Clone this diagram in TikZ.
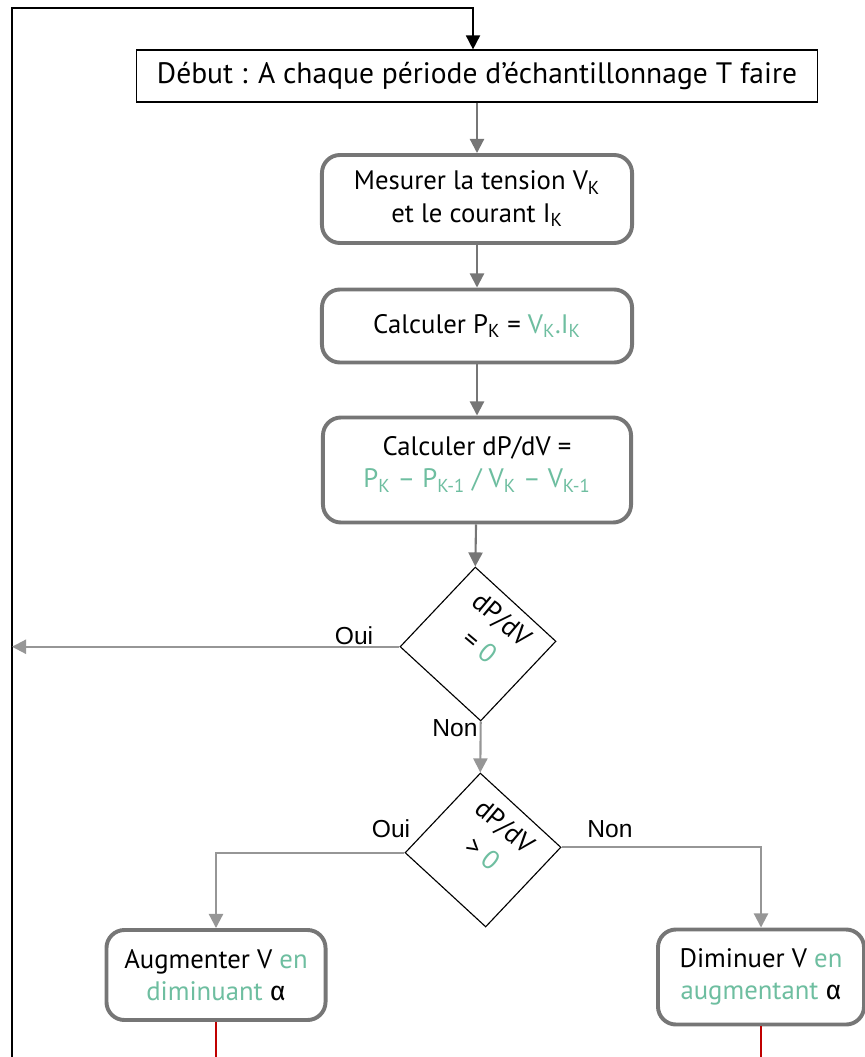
\documentclass[tikz,border=0pt]{standalone}
\usepackage{fontspec}
\usepackage{xcolor}
\setmainfont{PT Sans}
\newfontfamily\labelfont{Liberation Sans}
\newfontfamily\greekfont{Fira Sans}
\usetikzlibrary{shapes.geometric,arrows.meta}

\definecolor{boxgray}{RGB}{118,118,118}
\definecolor{linegray}{RGB}{150,150,150}
\definecolor{formula}{RGB}{110,190,160}
\definecolor{loopred}{RGB}{192,0,0}
\newcommand{\alphachar}{{\greekfont α}}
\newcommand{\low}[1]{\textsubscript{#1}}

\begin{document}
\begin{tikzpicture}[x=0.025cm,y=-0.025cm,
        every node/.style={font=\fontsize{19}{23}\selectfont},
        stepbox/.style={draw=boxgray,line width=2.8pt,rounded corners=0.45cm,fill=white,align=center,inner sep=0pt},
        startbox/.style={draw=black,line width=0.8pt,inner sep=0pt,font=\fontsize{21}{25}\selectfont},
        testbox/.style={draw=black,line width=0.8pt,diamond,inner sep=0pt,rotate=2,minimum width=3.9cm,minimum height=3.85cm},
        testtext/.style={rotate=-40,align=center,font=\fontsize{19}{25}\selectfont},
        answer/.style={font=\labelfont\fontsize{17.5}{22}\selectfont},
        flow/.style={draw=boxgray,line width=1.5pt,-{Triangle[width=10pt,length=10pt]}},
        branch/.style={draw=linegray,line width=1.5pt,-{Triangle[width=10pt,length=10pt]}},
        loopline/.style={draw=black,line width=1.2pt,-{Triangle[width=10pt,length=10pt]}}]
            \useasboundingbox (0,0) rectangle (865,1057);

            % one pass per sampling period
            \node[startbox,minimum width=17cm,minimum height=1.3cm] (debut) at (477,76) {Début : A chaque période d’échantillonnage T faire};

            \node[stepbox,minimum width=7.75cm,minimum height=2.2cm] (mesure) at (477,199) {Mesurer la tension V\low{K}\\et le courant I\low{K}};
            \node[stepbox,minimum width=7.75cm,minimum height=1.825cm] (calcP) at (477,326) {Calculer P\low{K} = \textcolor{formula}{V\low{K}.I\low{K}}};
            \node[stepbox,minimum width=7.7cm,minimum height=2.625cm] (calcD) at (477,470) {Calculer dP/dV =\\\textcolor{formula}{P\low{K} – P\low{K-1} / V\low{K} – V\low{K-1}}\rule[-0.4cm]{0pt}{0.4cm}};

            \node[testbox] (testA) at (478,644) {};
            \node[testtext] (condA) at (491,633) {dP/dV\\= \textcolor{formula}{0}};
            \node[testbox] (testB) at (483,850) {};
            \node[testtext] (condB) at (494,840) {dP/dV\\> \textcolor{formula}{0}};

            \node[stepbox,minimum width=5.475cm,minimum height=2.25cm] (augm) at (216,975) {Augmenter V \textcolor{formula}{en}\\\textcolor{formula}{diminuant} \alphachar};
            \node[stepbox,minimum width=5.15cm,minimum height=2.375cm] (dimin) at (761,977) {Diminuer V \textcolor{formula}{en}\\\textcolor{formula}{augmentant} \alphachar};

            \node[answer] (ouiA) at (354,636) {Oui};
            \node[answer] (nonA) at (455,728) {Non};
            \node[answer] (ouiB) at (391,829) {Oui};
            \node[answer] (nonB) at (610,829) {Non};

            \coordinate (loopBot) at (12,1057);
            \coordinate (loopIn) at (473,8);

            \draw[loopline] (loopBot) |- (loopIn) -- (loopIn |- debut.north);

            \draw[flow] (debut) -- (mesure);
            \draw[flow] (mesure) -- (calcP);
            \draw[flow] (calcP) -- (calcD);
            \draw[flow] (calcD) -- (testA.north);

            \draw[branch] (testA.west) -- (loopBot |- testA.west);
            \draw[branch] (testA.south) -- (testB.north);
            \draw[branch] (testB.west) -| (augm.north);
            \draw[branch] (testB.east) -| (dimin.north);

            \draw[loopred,line width=1pt] (augm.south) -- (augm.south |- loopBot);
            \draw[loopred,line width=1pt] (dimin.south) -- (dimin.south |- loopBot);
        \end{tikzpicture}
\end{document}
